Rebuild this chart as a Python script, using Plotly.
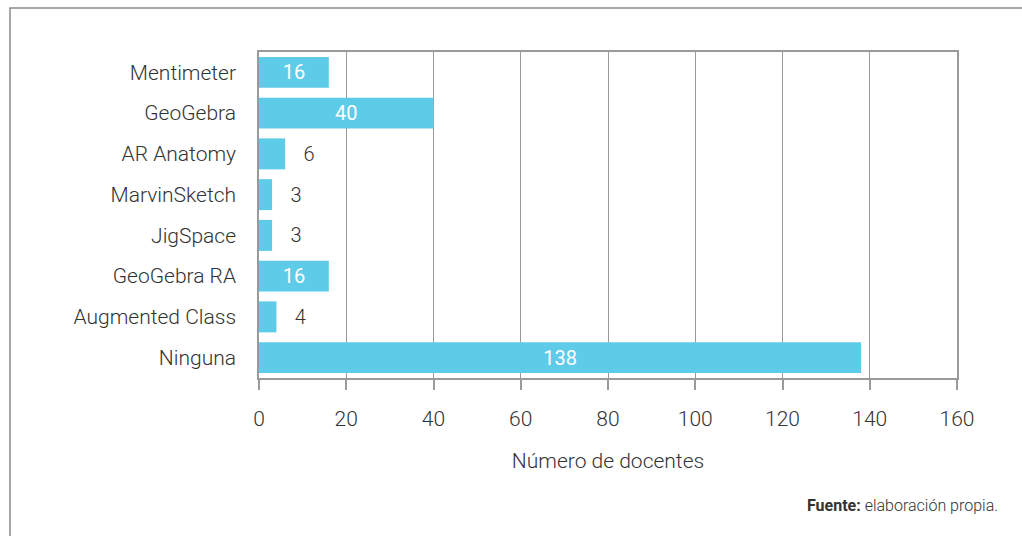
import plotly.graph_objects as go

categories = ["Mentimeter", "GeoGebra", "AR Anatomy", "MarvinSketch", "JigSpace",
              "GeoGebra RA", "Augmented Class", "Ninguna"]
values = [16, 40, 6, 3, 3, 16, 4, 138]
x_ticks = [0, 20, 40, 60, 80, 100, 120, 140, 160]

inside_min = 10
positions = ["inside" if v >= inside_min else "outside" for v in values]
texts = [str(v) if v >= inside_min else "\u2002\u2005" + str(v) for v in values]
text_colors = ["white" if v >= inside_min else "#333333" for v in values]
text_weights = [400 if v >= inside_min else 300 for v in values]

BAR = "#5ecbe8"
GRID = "#9a9a9a"
FONT = "Roboto, Liberation Sans, Arial, sans-serif"
FS = 21

fig = go.Figure(go.Bar(
    y=categories, x=values, orientation="h",
    marker=dict(color=BAR, line=dict(width=0)),
    text=texts, textposition=positions,
    insidetextanchor="middle",
    textfont=dict(family=FONT, size=FS - 1, color=text_colors, weight=text_weights),
    cliponaxis=False,
))

W, H = 1022, 536
L, R, T, B = 259, 65, 52, 158
pw, ph = W - L - R, H - T - B

fig.update_layout(
    width=W, height=H,
    margin=dict(l=L, r=R, t=T, b=B),
    paper_bgcolor="white", plot_bgcolor="white",
    bargap=0.24,
    showlegend=False,
    font=dict(family=FONT, color="#333333", weight=300),
    xaxis=dict(
        range=[0, 160], tickvals=x_ticks,
        showgrid=True, gridcolor=GRID, gridwidth=1.2,
        showline=True, linecolor=GRID, linewidth=1.5, mirror=True,
        ticks="outside", ticklen=10, tickcolor=GRID, tickwidth=1.5,
        ticklabelstandoff=11,
        tickfont=dict(family=FONT, size=FS, color="#333333", weight=300),
        zeroline=False,
        title=dict(text="Número de docentes", standoff=23,
                   font=dict(family=FONT, size=FS, color="#333333", weight=300)),
    ),
    yaxis=dict(
        autorange="reversed",
        showgrid=False,
        showline=True, linecolor=GRID, linewidth=1.5, mirror=True,
        ticks="", ticklabelstandoff=17,
        tickfont=dict(family=FONT, size=FS, color="#333333", weight=300),
    ),
    shapes=[dict(
        type="rect", xref="paper", yref="paper",
        x0=(10 - L) / pw, x1=(W + 20 - L) / pw,
        y0=-(B + 20) / ph, y1=(H - B - 8) / ph,
        line=dict(color="#8a8a8a", width=1.5), fillcolor="rgba(0,0,0,0)",
        layer="below",
    )],
    annotations=[dict(
        text="<b>Fuente:</b> elaboración propia.",
        xref="paper", yref="paper",
        x=(1000 - L) / pw, y=-(505 - (H - B)) / ph,
        xanchor="right", yanchor="middle", showarrow=False,
        font=dict(family=FONT, size=16, color="#333333", weight=300),
    )],
)

fig.write_html("out.html", config={"displayModeBar": False},
               post_script="document.body.style.margin='0';")
